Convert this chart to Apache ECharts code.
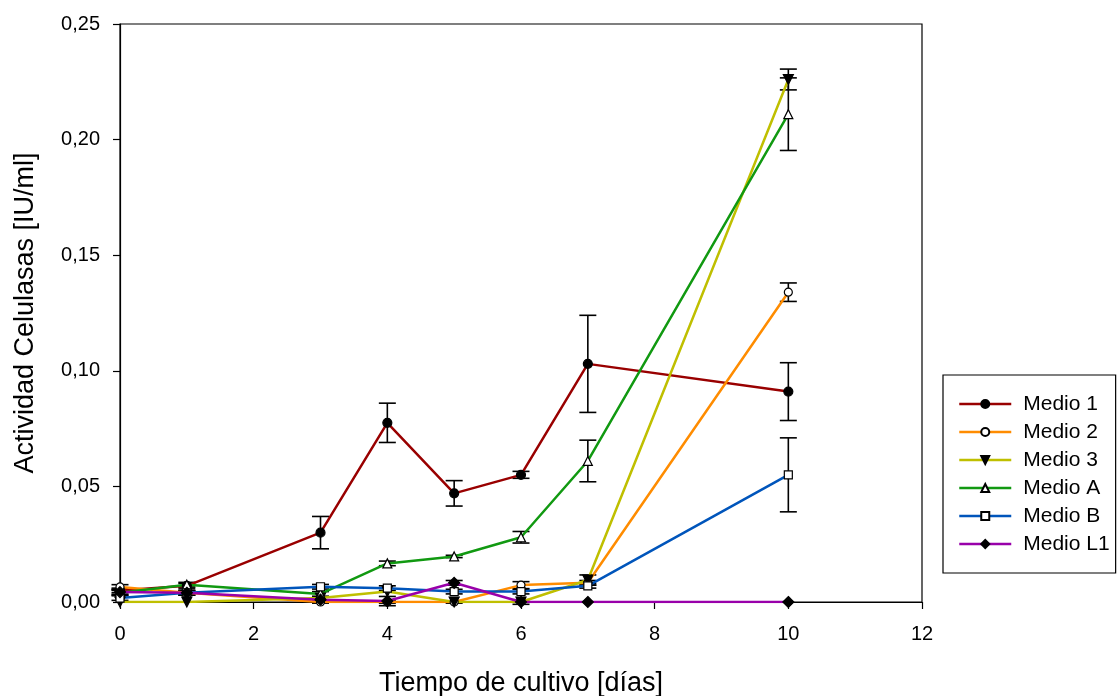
<!DOCTYPE html>
<html>
<head>
<meta charset="utf-8">
<script src="https://cdn.jsdelivr.net/npm/echarts@6/dist/echarts.min.js"></script>
<style>
  html, body { margin: 0; padding: 0; background: #fff; }
  #main { width: 1118px; height: 696px; }
</style>
</head>
<body>
<div id="main"></div>
<script>
// dias de cultivo
const days = [0, 1, 3, 4, 5, 6, 7, 10]

// actividad media y desviacion (+/-)
const medio1 = [0.005, 0.007, 0.030, 0.0775, 0.047, 0.055, 0.103, 0.091]
const sd1 = [0.001, 0.001, 0.007, 0.0085, 0.0055, 0.0015, 0.021, 0.0125]
const medio2 = [0.0065, 0.004, 0.000, 0.000, 0.000, 0.0073, 0.0083, 0.134]
const sd2 = [0.001, 0.001, 0.0005, 0.0005, 0.0005, 0.0015, 0.001, 0.004]
const medio3 = [0.000, 0.000, 0.0017, 0.0045, 0.000, 0.000, 0.0095, 0.226]
const sd3 = [0, 0, 0, 0, 0, 0, 0.0022, 0.0045]
const medioA = [0.004, 0.0075, 0.0035, 0.0167, 0.0197, 0.028, 0.061, 0.211]
const sdA = [0.001, 0.001, 0.001, 0.001, 0.0005, 0.0025, 0.009, 0.0157]
const medioB = [0.0017, 0.004, 0.0066, 0.006, 0.0045, 0.0045, 0.007, 0.055]
const sdB = [0.001, 0.001, 0.001, 0.001, 0.001, 0.001, 0.001, 0.016]
const medioL1 = [0.0043, 0.004, 0.001, 0.0004, 0.0083, 0.000, 0.000, 0.000]
const sdL1 = [0.001, 0.001, 0, 0.002, 0.001, 0.001, 0, 0]

const yTicks = ['0,00', '0,05', '0,10', '0,15', '0,20', '0,25']

const FONT = 'Liberation Sans, Arial, sans-serif'

const medios = [
  { name: 'Medio 1', data: medio1, sd: sd1, color: '#990000', symbol: 'circle', fill: '#000', size: 9 },
  { name: 'Medio 2', data: medio2, sd: sd2, color: '#ff8c00', symbol: 'circle', fill: '#fff', size: 8 },
  { name: 'Medio 3', data: medio3, sd: sd3, color: '#bfbf00', symbol: 'triangle', fill: '#000', size: 10, rotate: 180 },
  { name: 'Medio A', data: medioA, sd: sdA, color: '#119911', symbol: 'triangle', fill: '#fff', size: 9 },
  { name: 'Medio B', data: medioB, sd: sdB, color: '#0055bb', symbol: 'rect', fill: '#fff', size: 8 },
  { name: 'Medio L1', data: medioL1, sd: sdL1, color: '#9900aa', symbol: 'diamond', fill: '#000', size: 11 }
]

const series = []
medios.forEach(function (m) {
  series.push({
    name: m.name,
    type: 'line',
    data: days.map((d, i) => [d, m.data[i]]),
    symbol: m.symbol,
    symbolSize: m.size,
    symbolRotate: m.rotate || 0,
    lineStyle: { color: m.color, width: 2.5 },
    itemStyle: { color: m.fill, borderColor: '#000', borderWidth: 1.2 },
    z: 3
  })
  // barras de error
  series.push({
    name: m.name + ' err',
    type: 'custom',
    data: days.map((d, i) => [d, m.data[i] - m.sd[i], m.data[i] + m.sd[i]]).filter((p, i) => m.sd[i] > 0),
    renderItem: function (params, api) {
      const lo = api.coord([api.value(0), api.value(1)])
      const hi = api.coord([api.value(0), api.value(2)])
      const w = 8.5
      const st = { stroke: '#000', lineWidth: 1.6 }
      return {
        type: 'group',
        children: [
          { type: 'line', shape: { x1: lo[0], y1: lo[1], x2: hi[0], y2: hi[1] }, style: st },
          { type: 'line', shape: { x1: lo[0] - w, y1: lo[1], x2: lo[0] + w, y2: lo[1] }, style: st },
          { type: 'line', shape: { x1: hi[0] - w, y1: hi[1], x2: hi[0] + w, y2: hi[1] }, style: st }
        ]
      }
    },
    z: 2
  })
})

const chart = echarts.init(document.getElementById('main'))
chart.setOption({
  animation: false,
  grid: {
    left: 120,
    right: 196,
    top: 24,
    bottom: 94,
    outerBoundsMode: 'none',
    show: true,
    borderColor: '#000',
    borderWidth: 1.2
  },
  xAxis: {
    type: 'value',
    min: 0,
    max: 12,
    interval: 2,
    name: 'Tiempo de cultivo [días]',
    nameLocation: 'middle',
    nameGap: 68,
    nameTextStyle: { fontFamily: FONT, fontSize: 27, color: '#000' },
    axisLine: { onZero: false, lineStyle: { color: '#000', width: 1.2 } },
    axisTick: { length: 7, lineStyle: { color: '#000', width: 1.2 } },
    axisLabel: { fontFamily: FONT, fontSize: 20, color: '#000', margin: 22 },
    splitLine: { show: false }
  },
  yAxis: {
    type: 'value',
    min: 0,
    max: 0.25,
    interval: 0.05,
    name: 'Actividad Celulasas [IU/ml]',
    nameLocation: 'middle',
    nameGap: 81,
    nameRotate: 90,
    nameTextStyle: { fontFamily: FONT, fontSize: 27, color: '#000' },
    axisLine: { show: true, lineStyle: { color: '#000', width: 1.2 } },
    axisTick: { show: true, length: 7, lineStyle: { color: '#000', width: 1.2 } },
    axisLabel: {
      fontFamily: FONT, fontSize: 20, color: '#000', margin: 20,
      formatter: function (v) { return yTicks[Math.round(v / 0.05)] }
    },
    splitLine: { show: false }
  },
  legend: {
    data: medios.map(m => m.name),
    orient: 'vertical',
    left: 943,
    top: 375,
    padding: [18, 6, 18, 15],
    itemWidth: 52,
    itemHeight: 10,
    itemGap: 6,
    borderColor: '#000',
    borderWidth: 1.2,
    borderRadius: 0,
    lineStyle: { width: 2.5 },
    textStyle: { fontFamily: FONT, fontSize: 21, lineHeight: 22, color: '#000', padding: [0, 0, 0, 7] }
  },
  series: series
})
</script>
</body>
</html>
